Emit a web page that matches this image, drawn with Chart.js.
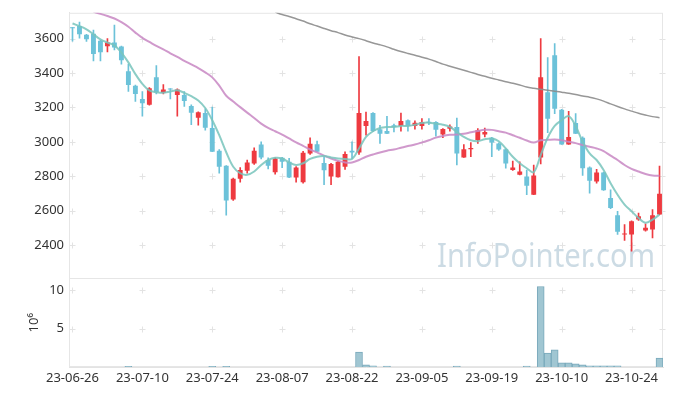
<!DOCTYPE html>
<html>
<head>
<meta charset="utf-8">
<script src="https://cdn.jsdelivr.net/npm/chart.js@4.4.0/dist/chart.umd.min.js"></script>
<style>
  html, body { margin: 0; padding: 0; background: #fff; }
</style>
</head>
<body>
<canvas id="myChart" width="673" height="396"></canvas>
<script>
const dates = [
  '23-06-26','23-06-27','23-06-28','23-06-29','23-06-30',
  '23-07-03','23-07-04','23-07-05','23-07-06','23-07-07',
  '23-07-10','23-07-11','23-07-12','23-07-13','23-07-14',
  '23-07-17','23-07-18','23-07-19','23-07-20','23-07-21',
  '23-07-24','23-07-25','23-07-26','23-07-27','23-07-28',
  '23-07-31','23-08-01','23-08-02','23-08-03','23-08-04',
  '23-08-07','23-08-08','23-08-09','23-08-10','23-08-11',
  '23-08-14','23-08-16','23-08-17','23-08-18','23-08-21',
  '23-08-22','23-08-23','23-08-24','23-08-25','23-08-28',
  '23-08-29','23-08-30','23-08-31','23-09-01','23-09-04',
  '23-09-05','23-09-06','23-09-07','23-09-08','23-09-11',
  '23-09-12','23-09-13','23-09-14','23-09-15','23-09-18',
  '23-09-19','23-09-20','23-09-21','23-09-22','23-09-25',
  '23-09-26','23-09-27','23-10-04','23-10-05','23-10-06',
  '23-10-10','23-10-11','23-10-12','23-10-13','23-10-16',
  '23-10-17','23-10-18','23-10-19','23-10-20','23-10-23',
  '23-10-24','23-10-25','23-10-26','23-10-27','23-10-30'
];

const open = [
  3665,3673,3623,3629,3587,3556,3577,3554,3410,3327,
  3250,3216,3375,3285,3308,3273,3273,3208,3141,3168,
  3081,2949,2862,2666,2786,2833,2875,2985,2895,2824,
  2908,2885,2793,2766,2933,2987,2878,2799,2795,2856,
  2949,2939,3093,3168,3074,3064,3097,3093,3126,3093,
  3093,3116,3116,3043,3077,3087,2910,2958,3010,3043,
  3024,2991,2958,2837,2809,2799,2693,2910,3289,3504,
  3187,2985,3110,3024,2851,2770,2822,2674,2574,2462,
  2463,2549,2486,2491,2578
];
const high = [
  3665,3696,3625,3650,3590,3600,3679,3556,3452,3330,
  3293,3315,3443,3333,3310,3308,3293,3216,3175,3192,
  3202,2955,2862,2790,2851,2895,2966,3001,2908,2908,
  2910,2904,2857,2945,3024,3005,2914,2875,2888,2943,
  3001,3496,3173,3170,3097,3149,3103,3168,3128,3122,
  3135,3135,3118,3078,3100,3139,2985,2996,3077,3081,
  3026,2995,2960,2889,2885,2837,2866,3600,3490,3571,
  3190,3177,3164,3030,2855,2841,2825,2722,2597,2520,
  2541,2587,2524,2607,2860
];
const low = [
  3585,3602,3584,3471,3471,3523,3535,3452,3293,3235,
  3149,3214,3279,3279,3250,3150,3206,3100,3097,3068,
  2943,2818,2574,2660,2766,2818,2870,2901,2843,2812,
  2851,2793,2766,2760,2927,2943,2751,2751,2795,2841,
  2904,2927,3039,3060,2991,3048,3058,3062,3062,3074,
  3074,3100,3033,3024,3062,2866,2910,2914,2991,3029,
  2914,2950,2847,2835,2809,2693,2693,2872,3054,3164,
  2985,2985,3048,2805,2703,2760,2718,2612,2463,2428,
  2366,2544,2482,2443,2578
];
const close = [
  3660,3625,3596,3510,3521,3577,3548,3475,3331,3279,
  3225,3312,3289,3304,3305,3304,3237,3169,3173,3083,
  2943,2856,2660,2786,2837,2881,2949,2910,2862,2904,
  2885,2793,2851,2937,2989,2943,2835,2872,2885,2930,
  2939,3168,3122,3064,3048,3048,3087,3122,3093,3112,
  3116,3112,3071,3075,3089,2933,2958,2965,3068,3058,
  2997,2956,2875,2851,2828,2745,2805,3375,3135,3192,
  2985,3029,3048,2847,2775,2822,2720,2616,2478,2466,
  2539,2568,2501,2574,2699
];

// moving averages
const ma5 = [
  3688,3673,3654,3625,3596,3577,3561,3519,3462,3394,
  3337,3299,3289,3285,3293,3300,3285,3266,3241,3197,
  3126,3039,2940,2856,2818,2809,2828,2866,2895,2908,
  2904,2881,2866,2876,2901,2914,2918,2910,2904,2901,
  2901,2962,3029,3062,3081,3087,3087,3093,3093,3100,
  3110,3112,3106,3100,3087,3058,3029,3010,3004,3016,
  3020,3004,2962,2914,2876,2847,2824,2924,3024,3093,
  3126,3150,3093,3001,2933,2895,2837,2760,2693,2636,
  2597,2558,2530,2549,2578
];
const ma20 = [
  null,null,null,3756,3744,3731,3717,3696,3669,3635,
  3604,3581,3558,3538,3515,3494,3471,3450,3429,3404,
  3375,3327,3268,3235,3202,3170,3139,3106,3081,3062,
  3043,3020,2997,2977,2956,2939,2920,2904,2891,2881,
  2881,2895,2914,2927,2939,2949,2956,2966,2976,2985,
  2997,3010,3025,3035,3041,3043,3047,3056,3064,3070,
  3070,3062,3054,3039,3024,3008,2997,3010,3012,3014,
  3010,3001,2993,2982,2972,2962,2947,2920,2895,2866,
  2843,2828,2814,2805,2803
];
const ma120 = [
  null,null,null,null,null,null,null,null,null,null,
  null,null,null,null,null,null,null,null,null,null,
  null,null,null,null,null,null,null,null,null,3754,
  3740,3729,3715,3702,3686,3673,3659,3646,3635,3621,
  3610,3600,3588,3575,3564,3552,3538,3525,3514,3504,
  3492,3481,3467,3452,3440,3428,3416,3404,3392,3381,
  3370,3360,3350,3341,3331,3319,3312,3306,3300,3295,
  3289,3283,3276,3267,3260,3250,3237,3221,3206,3192,
  3179,3166,3156,3147,3141
];

// volume, in millions (0 where the bar is too small to see)
const volume = [
  0,0,0,0,0,0,0,0,0.1,0,
  0,0,0,0,0,0,0,0,0,0,
  0.1,0,0.1,0,0,0,0,0,0,0,
  0,0,0,0,0,0,0,0,0,0,
  0,1.95,0.27,0.15,0,0.12,0,0,0,0,
  0,0,0,0,0,0.12,0,0,0,0,
  0,0,0,0,0,0.12,0,10.5,1.82,2.25,
  0.53,0.53,0.4,0.27,0.15,0.15,0.15,0.15,0.15,0,
  0,0,0,0,1.17
];

const priceTicks = [2400, 2600, 2800, 3000, 3200, 3400, 3600];
const volTicks = [5, 10];

const upColor = '#ee3a40';
const downColor = '#6cc2d9';
const candleColors = close.map((c, i) => c > open[i] ? upColor : downColor);

const tickFont = { family: '"Noto Sans", sans-serif', size: 13 };

// light crosses at tick intersections, frame and watermark
const crossGrid = {
  id: 'crossGrid',
  beforeDatasetsDraw(chart) {
    const { ctx, chartArea, scales } = chart;
    ctx.save();

    // watermark
    ctx.font = '33px "Noto Sans", sans-serif';
    ctx.fillStyle = '#ccdbe4';
    ctx.textAlign = 'right';
    ctx.textBaseline = 'alphabetic';
    const text = 'InfoPointer.com';
    const w = ctx.measureText(text).width;
    ctx.translate(655, 267);
    ctx.scale(218 / w, 1);
    ctx.fillText(text, 0, 0);
    ctx.setTransform(1, 0, 0, 1, 0, 0);

    ctx.strokeStyle = '#e3e3e3';
    ctx.lineWidth = 1;
    const xs = [];
    dates.forEach((d, i) => { if (i % 10 === 0) xs.push(scales.x.getPixelForValue(i)); });
    xs.push(chartArea.right - 1);
    [['y', priceTicks], ['yv', volTicks]].forEach(([id, ticks]) => {
      ticks.forEach(v => {
        const py = Math.round(scales[id].getPixelForValue(v)) + 0.5;
        xs.forEach(x => {
          const px = Math.round(x) + 0.5;
          ctx.beginPath();
          ctx.moveTo(px - 3, py); ctx.lineTo(px + 3, py);
          ctx.moveTo(px, py - 3); ctx.lineTo(px, py + 3);
          ctx.stroke();
        });
      });
    });

    ctx.strokeStyle = '#e6e6e6';
    ctx.strokeRect(chartArea.left + 0.5, chartArea.top + 0.5, chartArea.width - 1, chartArea.height - 1);
    const sep = Math.round(scales.y.bottom) + 0.5;
    ctx.beginPath();
    ctx.moveTo(chartArea.left, sep);
    ctx.lineTo(chartArea.right, sep);
    ctx.stroke();
    ctx.restore();
  }
};

const ctx = document.getElementById('myChart').getContext('2d');
new Chart(ctx, {
  type: 'bar',
  data: {
    labels: dates,
    datasets: [
      {
        type: 'line', label: 'MA5', data: ma5, yAxisID: 'y', order: 0,
        borderColor: 'rgba(120,196,188,0.85)', borderWidth: 2, pointRadius: 0, tension: 0.35
      },
      {
        type: 'line', label: 'MA20', data: ma20, yAxisID: 'y', order: 0,
        borderColor: 'rgba(200,135,195,0.85)', borderWidth: 2, pointRadius: 0, tension: 0.35
      },
      {
        type: 'line', label: 'MA120', data: ma120, yAxisID: 'y', order: 0,
        borderColor: 'rgba(140,140,140,0.9)', borderWidth: 1.5, pointRadius: 0, tension: 0.35
      },
      {
        label: 'body', data: open.map((o, i) => [o, close[i]]), yAxisID: 'y', order: 1,
        backgroundColor: candleColors, barPercentage: 0.7, categoryPercentage: 1,
        grouped: false, minBarLength: 1
      },
      {
        label: 'wick', data: low.map((l, i) => [l, high[i]]), yAxisID: 'y', order: 2,
        backgroundColor: candleColors, barThickness: 1, grouped: false
      },
      {
        label: 'volume', data: volume, yAxisID: 'yv', order: 3,
        backgroundColor: '#a0c6d2', borderColor: '#79a9bb', borderWidth: 1,
        barPercentage: 1, categoryPercentage: 1, grouped: false
      }
    ]
  },
  options: {
    responsive: false,
    animation: false,
    layout: { padding: { left: 21, right: 10, top: 10, bottom: 5 } },
    plugins: {
      legend: { display: false },
      tooltip: { enabled: false }
    },
    scales: {
      x: {
        grid: { display: false, drawTicks: false },
        border: { color: '#e3e3e3' },
        ticks: {
          autoSkip: false, maxRotation: 0, minRotation: 0, padding: 3,
          color: '#333', font: tickFont,
          callback: (v, i) => i % 10 === 0 ? dates[i] : ''
        },
        afterFit: s => { s.height = 24; }
      },
      yv: {
        type: 'linear', position: 'left', stack: 'main', stackWeight: 1,
        min: 0, max: 11.55,
        grid: { display: false, drawTicks: false },
        border: { color: '#e3e3e3' },
        title: { display: true, text: '10⁶', color: '#333', font: tickFont, padding: { top: 5, bottom: 0 } },
        ticks: { color: '#333', font: tickFont, padding: 5, callback: v => String(v) },
        afterBuildTicks: s => { s.ticks = volTicks.map(v => ({ value: v })); },
        afterFit: s => { s.width = 48; }
      },
      y: {
        type: 'linear', position: 'left', stack: 'main', stackWeight: 3,
        min: 2207, max: 3750,
        grid: { display: false, drawTicks: false },
        border: { color: '#e3e3e3' },
        ticks: { color: '#333', font: tickFont, padding: 5, callback: v => String(v) },
        afterBuildTicks: s => { s.ticks = priceTicks.map(v => ({ value: v })); },
        afterFit: s => { s.width = 48; }
      }
    }
  },
  plugins: [crossGrid]
});
</script>
</body>
</html>
